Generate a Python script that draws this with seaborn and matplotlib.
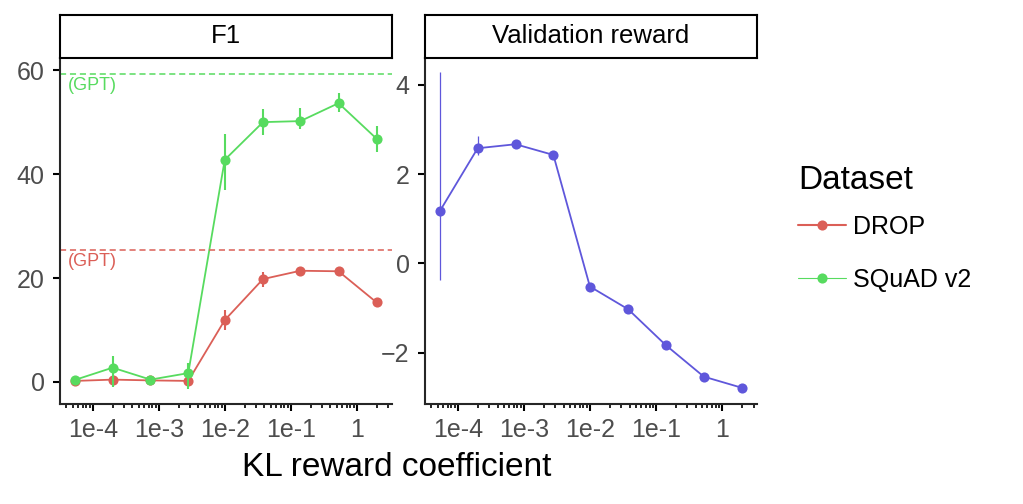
import pandas as pd
import matplotlib
matplotlib.use("Agg")
import matplotlib.pyplot as plt
from matplotlib.lines import Line2D
from matplotlib.ticker import LogLocator
import seaborn as sns

sns.set_style("ticks")
plt.rcParams['font.family'] = ['Liberation Sans', 'DejaVu Sans']
plt.rcParams['text.color'] = 'black'
plt.rcParams['axes.linewidth'] = 1.5
plt.rcParams['xtick.major.width'] = 1.5
plt.rcParams['ytick.major.width'] = 1.5
plt.rcParams['xtick.minor.width'] = 1.2
plt.rcParams['xtick.major.size'] = 5
plt.rcParams['ytick.major.size'] = 5
plt.rcParams['xtick.minor.size'] = 2.5
plt.rcParams['xtick.color'] = 'black'
plt.rcParams['ytick.color'] = 'black'
plt.rcParams['xtick.labelcolor'] = '#4d4d4d'
plt.rcParams['ytick.labelcolor'] = '#4d4d4d'

# data
kl_coef = [5.4e-5, 2.0e-4, 7.5e-4, 2.8e-3, 1.0e-2, 3.8e-2, 0.14, 0.53, 2.0]
datasets = ["DROP", "SQuAD v2"]
f1_drop = [0.2, 0.45, 0.3, 0.2, 11.9, 19.8, 21.4, 21.3, 15.3]
drop_lo = [0.0, 0.1, 0.1, 0.0, 10.0, 18.3, 20.8, 20.7, 14.9]
drop_hi = [0.4, 0.8, 0.5, 0.4, 13.8, 21.1, 22.0, 21.9, 15.7]
f1_squad = [0.4, 2.75, 0.45, 1.7, 42.75, 50.0, 50.2, 53.65, 46.8]
squad_lo = [0.0, -1.0, 0.1, -1.4, 36.9, 47.6, 48.7, 52.0, 44.3]
squad_hi = [0.8, 5.0, 0.8, 3.6, 47.8, 52.5, 52.8, 55.7, 49.2]
gpt_f1 = [25.4, 59.3]
reward = [1.18, 2.58, 2.67, 2.43, -0.52, -1.03, -1.83, -2.54, -2.79]
reward_lo = [-0.38, 2.42, 2.6, 2.38, -0.58, -1.08, -1.88, -2.6, -2.84]
reward_hi = [4.28, 2.86, 2.74, 2.5, -0.46, -0.98, -1.78, -2.48, -2.74]
tick_vals = [1e-4, 1e-3, 1e-2, 1e-1, 1]
tick_labels = ["1e-4", "1e-3", "1e-2", "1e-1", "1"]

pal = sns.color_palette("hls", 3)

f1_df = pd.DataFrame({
    "kl": kl_coef * 2,
    "F1": f1_drop + f1_squad,
    "lo": drop_lo + squad_lo,
    "hi": drop_hi + squad_hi,
    "Dataset": ["DROP"] * len(kl_coef) + ["SQuAD v2"] * len(kl_coef),
})
rew_df = pd.DataFrame({"kl": kl_coef, "reward": reward,
                       "lo": reward_lo, "hi": reward_hi})

W, H = 1023, 504
fig = plt.figure(figsize=(W / 100, H / 100), dpi=100)


def box(x0, x1, y0, y1):
    return [x0 / W, 1 - y1 / H, (x1 - x0) / W, (y1 - y0) / H]


ax1 = fig.add_axes(box(60, 391.7, 57.7, 404.3))
ax2 = fig.add_axes(box(425, 757, 57.7, 404.3))

# F1 panel
sns.lineplot(data=f1_df, x="kl", y="F1", hue="Dataset", palette=pal[:2],
             marker="o", markersize=7.3, markeredgewidth=0, linewidth=1.3,
             ax=ax1, legend=False)
for i, name in enumerate(datasets):
    sub = f1_df[f1_df["Dataset"] == name]
    ax1.vlines(sub["kl"], sub["lo"], sub["hi"], color=pal[i], lw=1.5)
    ax1.axhline(gpt_f1[i], color=pal[i], ls=(0, (4, 2.5)), lw=1.1)
    ax1.text(0.023, gpt_f1[i] - 0.6, "(GPT)", color=pal[i], fontsize=13,
             va="top", ha="left", transform=ax1.get_yaxis_transform())
ax1.set_ylim(-4.3, 62.4)
ax1.set_yticks([0, 20, 40, 60])

# validation reward panel
sns.lineplot(data=rew_df, x="kl", y="reward", color=pal[2], marker="o",
             markersize=7.3, markeredgewidth=0, linewidth=1.3, ax=ax2)
ax2.vlines(rew_df["kl"], rew_df["lo"], rew_df["hi"], color=pal[2], lw=0.9)
ax2.set_ylim(-3.16, 4.61)
ax2.set_yticks([-2, 0, 2, 4])

for ax in (ax1, ax2):
    ax.set_xscale("log")
    ax.set_xticks(tick_vals, tick_labels)
    ax.xaxis.set_minor_locator(LogLocator(base=10, subs=range(2, 10),
                                          numticks=20))
    ax.tick_params(axis="x", which="minor", length=3, width=1.2)
    ax.tick_params(axis="x", which="major", labelsize=18, pad=5)
    ax.tick_params(axis="y", labelsize=18, pad=6)
    ax.set_xlabel("")
    ax.set_ylabel("")
    sns.despine(ax=ax)

# facet strips
for ax, title, (x0, x1) in [(ax1, "F1", (60, 391.7)),
                            (ax2, "Validation reward", (425, 757))]:
    s = fig.add_axes(box(x0, x1, 15, 57.7))
    s.set_xticks([])
    s.set_yticks([])
    for sp in s.spines.values():
        sp.set_linewidth(1.5)
        sp.set_color("black")
    s.text(0.5, 0.5, title, ha="center", va="center", fontsize=18.5)

fig.text(397 / W, 1 - 468 / H, "KL reward coefficient", ha="center",
         va="center", fontsize=24)

handles = [Line2D([], [], color=pal[0], lw=1.5, marker="o", markersize=7.3,
                  markeredgewidth=0),
           Line2D([], [], color=pal[1], lw=0.8, marker="o", markersize=7.3,
                  markeredgewidth=0)]
leg = fig.legend(handles, datasets, title="Dataset", frameon=False,
                 loc="upper left", bbox_to_anchor=(798 / W, 1 - 165 / H),
                 borderpad=0, borderaxespad=0,
                 fontsize=18, title_fontsize=24, handlelength=1.9,
                 handletextpad=0.3, labelspacing=1.15)
leg._legend_box.align = "left"
leg._legend_box.sep = 13.5

fig.savefig("out.png", dpi=100)
